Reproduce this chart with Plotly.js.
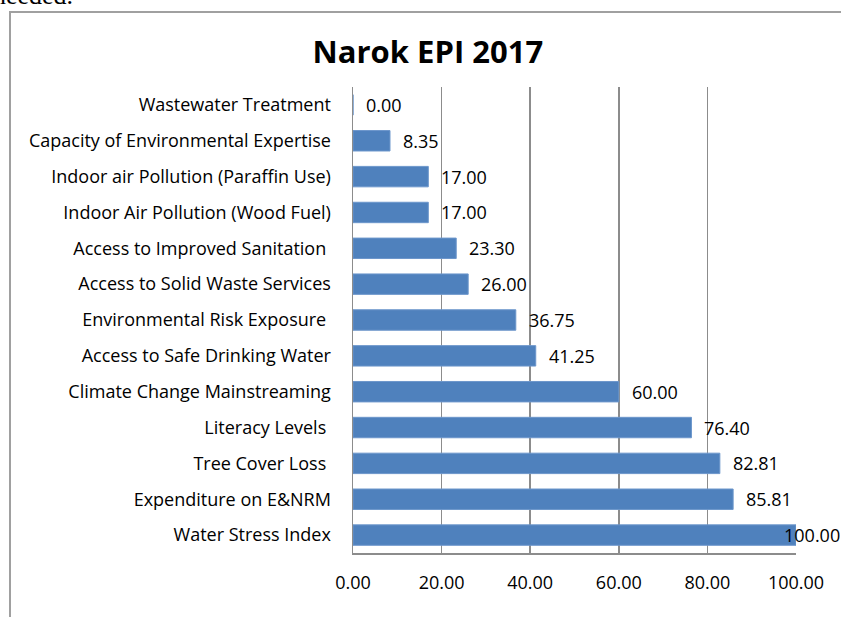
<!DOCTYPE html>
<html>
<head>
<meta charset="utf-8">
<script src="https://cdn.plot.ly/plotly-3.0.1.min.js"></script>
<style>
  html, body { margin: 0; padding: 0; background: #fff; overflow: hidden; }
  #wrap { position: relative; width: 841px; height: 617px; overflow: hidden; }
  #chart { position: absolute; left: 0; top: 0; width: 841px; height: 617px; }
  #frame { position: absolute; left: 9px; top: 11px; width: 860px; height: 640px;
           border-left: 2px solid #a0a0a0; border-top: 2px solid #a0a0a0; pointer-events: none; }
  #prev { position: absolute; left: -7px; top: -17px; font-family: "Liberation Serif", serif;
          font-size: 26px; line-height: 26px; color: #000; white-space: nowrap; }
</style>
</head>
<body>
<div id="wrap">
  <div id="prev">needed.</div>
  <div id="chart"></div>
  <div id="frame"></div>
</div>
<script>
const categories = [
  "Wastewater Treatment",
  "Capacity of Environmental Expertise",
  "Indoor air Pollution (Paraffin Use)",
  "Indoor Air Pollution (Wood Fuel)",
  "Access to Improved Sanitation ",
  "Access to Solid Waste Services",
  "Environmental Risk Exposure ",
  "Access to Safe Drinking Water",
  "Climate Change Mainstreaming",
  "Literacy Levels ",
  "Tree Cover Loss ",
  "Expenditure on E&NRM",
  "Water Stress Index"
];
const values = [0.00, 8.35, 17.00, 17.00, 23.30, 26.00, 36.75, 41.25, 60.00, 76.40, 82.81, 85.81, 100.00];
const tickValues = [0, 20, 40, 60, 80, 100];
const tickLabels = ["0.00", "20.00", "40.00", "60.00", "80.00", "100.00"];
const chartTitle = "Narok EPI 2017";

const FONT = "'Open Sans', Lato, sans-serif";
const xMax = 100;

const annotations = categories.map((c, i) => ({
  x: values[i], y: c, xref: "x", yref: "y",
  text: values[i].toFixed(2), showarrow: false,
  xanchor: "left", yanchor: "middle",
  xshift: values[i] >= xMax ? -14 : 11,
  font: { family: FONT, size: 18, color: "#000" }
}));

const trace = {
  type: "bar", orientation: "h",
  x: values, y: categories,
  marker: { color: "#4F81BD", line: { color: "#6C96CB", width: 1 } },
  hoverinfo: "skip"
};

const layout = {
  width: 841, height: 617,
  margin: { l: 353, r: 45, t: 87, b: 64 },
  paper_bgcolor: "rgba(0,0,0,0)", plot_bgcolor: "rgba(0,0,0,0)",
  showlegend: false,
  bargap: 0.43,
  title: {
    text: "<b>" + chartTitle + "</b>",
    font: { family: FONT, size: 31, color: "#000" },
    xref: "paper", x: 0.169, xanchor: "center",
    yref: "container", y: 1 - 52 / 617, yanchor: "middle"
  },
  xaxis: {
    range: [0, xMax], fixedrange: true,
    tickmode: "array", tickvals: tickValues, ticktext: tickLabels,
    showgrid: true, gridcolor: "#8c8c8c", gridwidth: 1.5,
    showline: true, linecolor: "#8c8c8c", linewidth: 1.5,
    zeroline: false, ticks: "", ticklabelstandoff: 13,
    tickfont: { family: FONT, size: 18, color: "#000" }
  },
  yaxis: {
    type: "category", autorange: "reversed", fixedrange: true,
    showgrid: false, showline: true, linecolor: "#8c8c8c", linewidth: 1.5,
    ticks: "", ticklabelstandoff: 17,
    tickfont: { family: FONT, size: 18, color: "#000" }
  },
  annotations: annotations
};

Plotly.newPlot("chart", [trace], layout, { displayModeBar: false, staticPlot: true });
</script>
</body>
</html>
